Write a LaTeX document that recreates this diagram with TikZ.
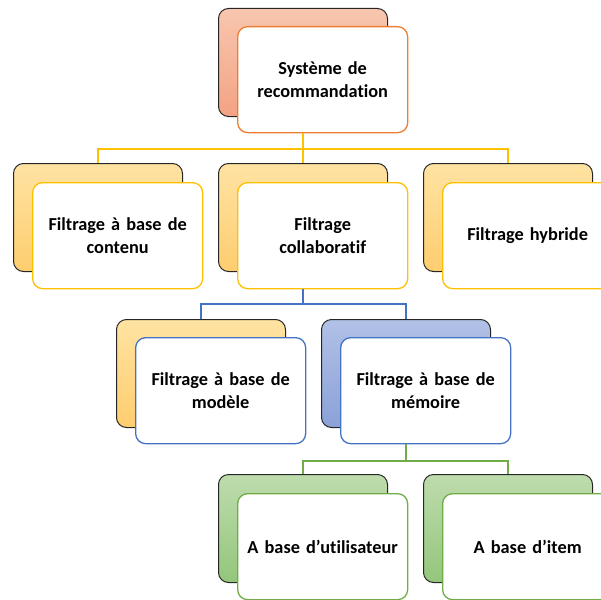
\documentclass[tikz,border=0pt]{standalone}
\usepackage{fontspec}
\setmainfont{Carlito}[Ligatures=NoCommon]
\definecolor{orgB}{HTML}{ED7D31}
\definecolor{goldB}{HTML}{FFC000}
\definecolor{blueB}{HTML}{4472C4}
\definecolor{greenB}{HTML}{70AD47}
\definecolor{salTop}{HTML}{F8C6AF}
\definecolor{salBot}{HTML}{F3A383}
\definecolor{goldTop}{HTML}{FFE3A2}
\definecolor{goldBot}{HTML}{FECD6F}
\definecolor{bluTop}{HTML}{B1C1E6}
\definecolor{bluBot}{HTML}{8BA1D8}
\definecolor{grnTop}{HTML}{BEDCAD}
\definecolor{grnBot}{HTML}{93C67B}
\definecolor{edge}{HTML}{262626}
\begin{document}
\begin{tikzpicture}[x=1pt,y=-1pt,
  backbox/.style={rectangle, rounded corners=10pt, draw=edge, line width=1pt,
    minimum width=169pt, minimum height=108pt, inner sep=0pt, anchor=north west},
  frontbox/.style={rectangle, rounded corners=10pt, fill=white, line width=1.3pt,
    minimum width=170pt, minimum height=106pt, inner sep=2pt, anchor=north west,
    align=center, text width=160pt,
    font=\bfseries\fontsize{18.3}{23}\selectfont},
  sal/.style={top color=salTop, bottom color=salBot},
  gld/.style={top color=goldTop, bottom color=goldBot},
  blu/.style={top color=bluTop, bottom color=bluBot},
  grn/.style={top color=grnTop, bottom color=grnBot},
  conn/.style={line width=2.2pt}
]
\useasboundingbox (0,0) rectangle (601,599);
\clip (0,0) rectangle (601,599);

% root
\node[backbox, sal] (rootB) at (218,8) {};
\node[frontbox, draw=orgB] (rootF) at (237,26) {Système de\\recommandation};

% level 2
\node[backbox, gld] (contB) at (13,163) {};
\node[frontbox, draw=goldB] (contF) at (32,182) {Filtrage à base de\\contenu};
\node[backbox, gld] (collB) at (218,163) {};
\node[frontbox, draw=goldB] (collF) at (237,182) {Filtrage\\collaboratif};
\node[backbox, gld] (hybB) at (423,163) {};
\node[frontbox, draw=goldB] (hybF) at (442,182) {Filtrage hybride};

% level 3
\node[backbox, gld] (modB) at (116,319) {};
\node[frontbox, draw=blueB] (modF) at (135,337) {Filtrage à base de\\modèle};
\node[backbox, blu] (memB) at (321,319) {};
\node[frontbox, draw=blueB] (memF) at (340,337) {Filtrage à base de\\mémoire};

% level 4
\node[backbox, grn] (userB) at (218,474) {};
\node[frontbox, draw=greenB] (userF) at (237,493) {A base d’utilisateur};
\node[backbox, grn] (itemB) at (423,474) {};
\node[frontbox, draw=greenB] (itemF) at (442,493) {A base d’item};

% connectors level 1-2
\coordinate (j1) at (302,149);
\draw[conn, draw=goldB] (rootF.south -| rootB.south) -- (rootB.south |- j1);
\draw[conn, draw=goldB] (contB.north) -- (contB.north |- j1) -- (hybB.north |- j1) -- (hybB.north);
\draw[conn, draw=goldB] (collB.north) -- (collB.north |- j1);

% connectors level 2-3
\coordinate (j2) at (303,304);
\draw[conn, draw=blueB] (collF.south -| collB.south) -- (collB.south |- j2);
\draw[conn, draw=blueB] (modB.north) -- (modB.north |- j2) -- (memB.north |- j2) -- (memB.north);

% connectors level 3-4
\coordinate (j3) at (405,461);
\draw[conn, draw=greenB] (memF.south -| memB.south) -- (memB.south |- j3);
\draw[conn, draw=greenB] (userB.north) -- (userB.north |- j3) -- (itemB.north |- j3) -- (itemB.north);
\end{tikzpicture}
\end{document}
